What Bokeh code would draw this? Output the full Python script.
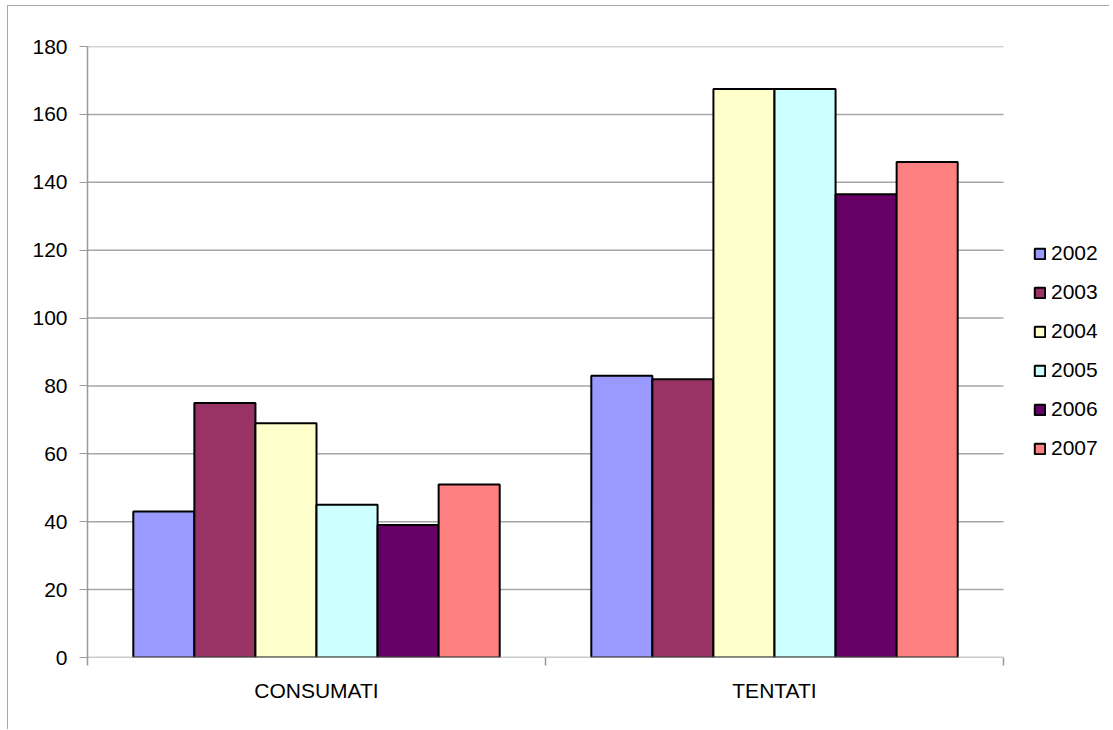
from bokeh.plotting import figure
from bokeh.models import ColumnDataSource, FixedTicker, Range1d, Legend, LegendItem
from bokeh.embed import file_html
from bokeh.resources import INLINE

categories = ["CONSUMATI", "TENTATI"]
years = ["2002", "2003", "2004", "2005", "2006", "2007"]
v2002 = [43, 83]
v2003 = [75, 82]
v2004 = [69, 167.5]
v2005 = [45, 167.5]
v2006 = [39, 136.5]
v2007 = [51, 146]
colors = ["#9999FF", "#993366", "#FFFFCC", "#CCFFFF", "#660066", "#FF8080"]
y_ticks = [0, 20, 40, 60, 80, 100, 120, 140, 160, 180]

series = [v2002, v2003, v2004, v2005, v2006, v2007]
FONT = "Liberation Sans"
GRID = "#a6a6a6"
AXIS = "#999999"

# the frame is widened to hold the legend; the category area keeps 916 px
plot_w, frame_w = 916, 1018
ncat = len(categories)
x_end = ncat * frame_w / plot_w

p = figure(frame_width=frame_w, frame_height=611, output_backend="svg", toolbar_location=None,
           x_range=Range1d(0, x_end), y_range=Range1d(0, 180),
           min_border_left=79, min_border_right=4,
           min_border_top=40, min_border_bottom=72)
p.styles = {"border-top": "1px solid #a8a8a8", "border-left": "1px solid #a8a8a8",
            "margin-left": "7px", "margin-top": "5px"}
p.outline_line_color = None
p.background_fill_color = "white"

# horizontal gridlines limited to the category area
p.xgrid.grid_line_color = None
p.ygrid.grid_line_color = None
gy = y_ticks[1:]
p.segment(x0=[0] * len(gy), x1=[ncat] * len(gy), y0=gy, y1=gy,
          line_color=GRID, line_width=1.5)

group_w = 0.8
bw = group_w / len(years)
renderers = []
for i, (yr, vals, c) in enumerate(zip(years, series, colors)):
    xs = [k + 0.5 - group_w / 2 + bw * (i + 0.5) for k in range(ncat)]
    src = ColumnDataSource(dict(x=xs, top=vals))
    r = p.vbar(x="x", top="top", width=bw, bottom=0, source=src,
               fill_color=c, line_color="black", line_width=2)
    renderers.append((yr, r))

# x axis baseline limited to the category area
p.segment(x0=[0], x1=[ncat], y0=[0], y1=[0], line_color=AXIS, line_width=1.5)

# axes
p.yaxis.ticker = FixedTicker(ticks=y_ticks)
p.yaxis.major_tick_out = 8
p.yaxis.major_tick_in = 0
p.yaxis.minor_tick_line_color = None
p.yaxis.axis_line_color = AXIS
p.yaxis.major_tick_line_color = AXIS
p.yaxis.axis_line_width = 1.5
p.yaxis.major_label_standoff = 12
p.yaxis.major_label_text_font = FONT
p.yaxis.major_label_text_font_size = "21px"
p.yaxis.major_label_text_color = "black"

centers = [k + 0.5 for k in range(ncat)]
p.xaxis.ticker = FixedTicker(ticks=centers, minor_ticks=list(range(ncat + 1)))
p.xaxis.major_label_overrides = {c: n for c, n in zip(centers, categories)}
p.xaxis.major_tick_out = 0
p.xaxis.major_tick_in = 0
p.xaxis.minor_tick_out = 8
p.xaxis.minor_tick_in = 0
p.xaxis.minor_tick_line_color = AXIS
p.xaxis.minor_tick_line_width = 1.5
p.xaxis.axis_line_color = None
p.xaxis.major_label_standoff = 13
p.xaxis.major_label_text_font = FONT
p.xaxis.major_label_text_font_size = "21px"
p.xaxis.major_label_text_color = "black"

legend = Legend(items=[LegendItem(label=yr, renderers=[r]) for yr, r in renderers],
                location=(946, 197), orientation="vertical")
legend.border_line_color = None
legend.background_fill_alpha = 0
legend.margin = 0
legend.padding = 0
legend.glyph_width = 13
legend.glyph_height = 13
legend.label_height = 24
legend.spacing = 15
legend.label_standoff = 5
legend.label_text_font = FONT
legend.label_text_font_size = "21px"
legend.label_text_color = "black"
p.add_layout(legend, "center")

open("out.html", "w").write(file_html(p, INLINE))
